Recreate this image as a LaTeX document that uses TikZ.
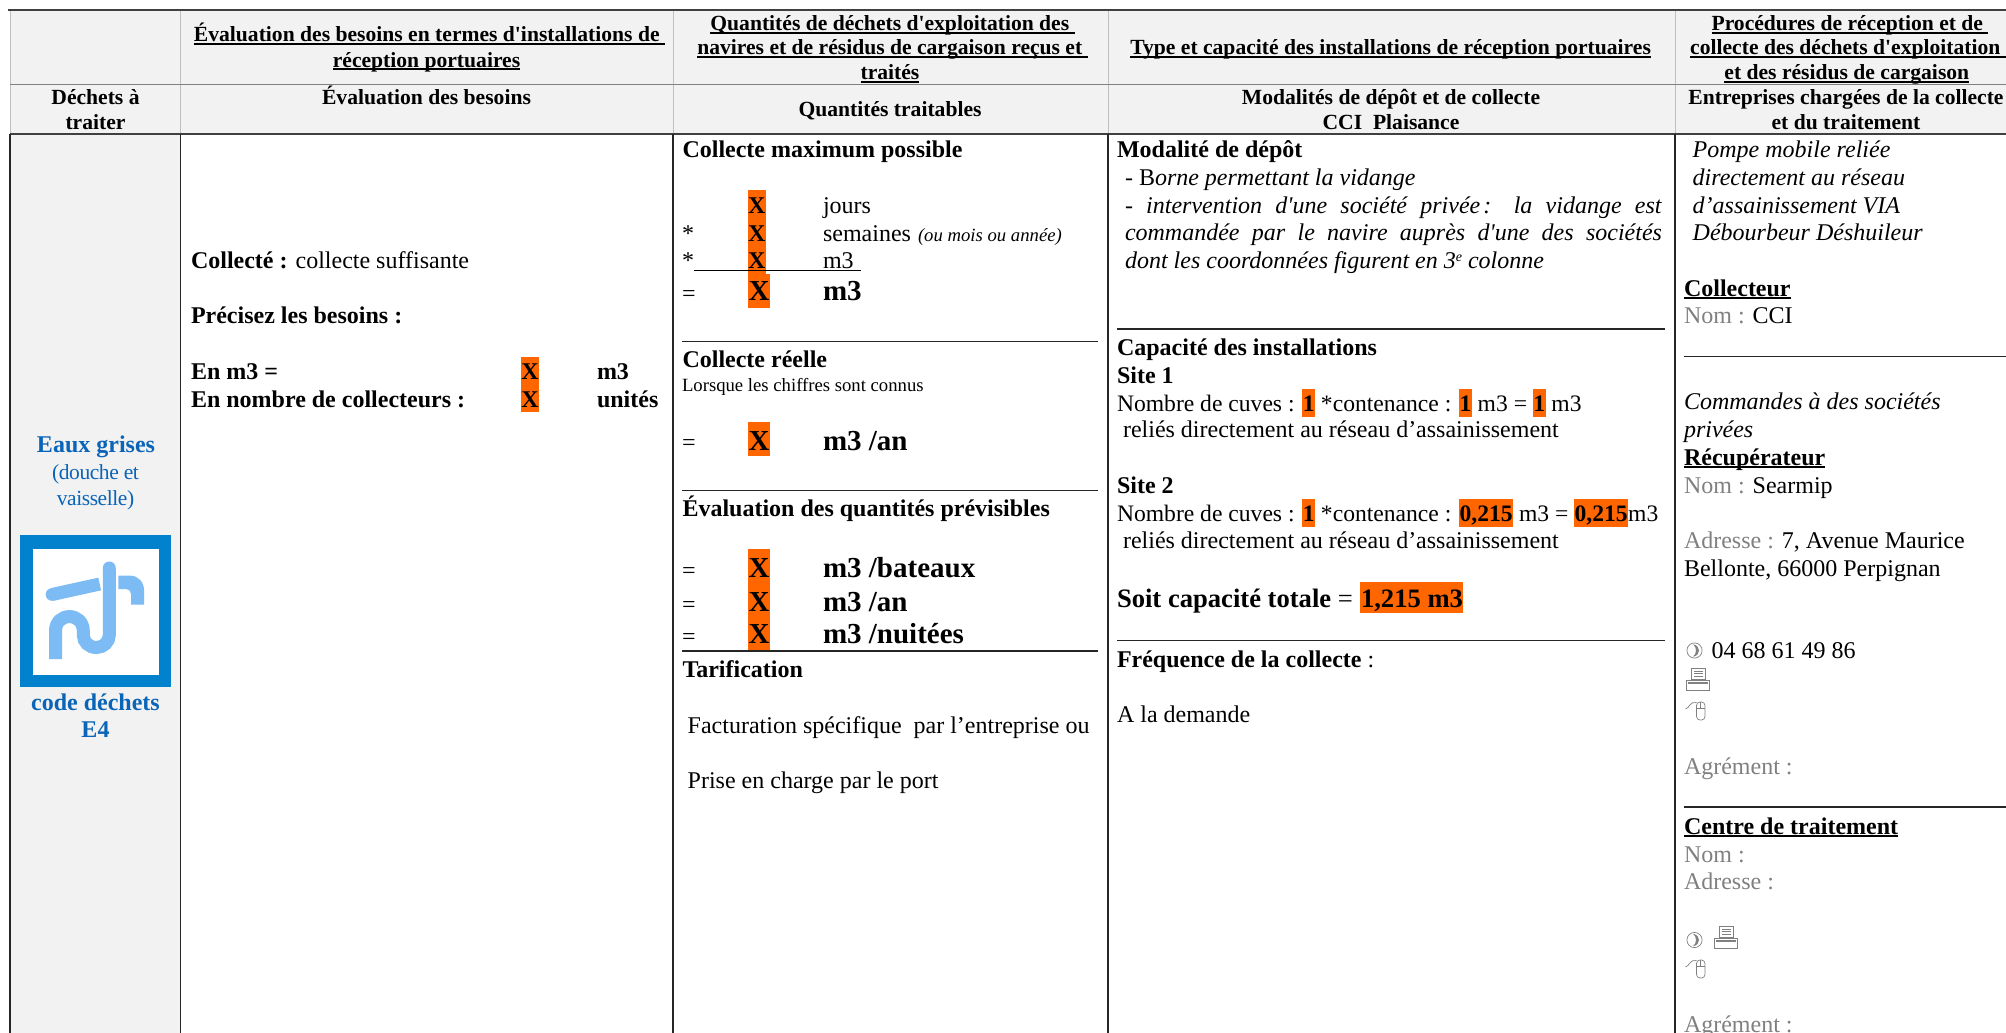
\documentclass[tikz,border=0pt]{standalone}
\usepackage{fontspec}
\setmainfont{Liberation Serif}
\newfontfamily\rawf{Liberation Serif}
\newcommand{\sq}{{\rawf'}}
\definecolor{hlor}{HTML}{FF6600}
\definecolor{hdbg}{HTML}{F2F2F2}
\definecolor{wblue}{HTML}{0A64B8}
\definecolor{logob}{HTML}{0282CC}
\definecolor{logol}{HTML}{7DBBF5}
\definecolor{gtxt}{HTML}{808080}
\setlength{\fboxsep}{0pt}
\newsavebox{\ulbox}
\newcommand{\ul}[1]{\sbox{\ulbox}{#1}\rlap{\rule[-2.7pt]{\wd\ulbox}{1.3pt}}\usebox{\ulbox}}
\newcommand{\hl}[1]{\colorbox{hlor}{\rule[-6pt]{0pt}{27.6pt}\kern0.4pt\textbf{#1}\kern0.4pt}}
\newcommand{\hlbig}[1]{\colorbox{hlor}{\rule[-6pt]{0pt}{31pt}\kern1.5pt\textbf{#1}\kern0.5pt}}
\newcommand{\phoneicon}[2]{\begin{scope}[shift={(#1,#2)}]
\draw[gtxt,line width=0.7pt] (8.5,8) circle (7.6);
\fill[gtxt] (7,1.8) .. controls (15,3) and (15,13) .. (7,14.2) .. controls (11,11) and (11,5) .. (7,1.8);
\end{scope}}
\newcommand{\printericon}[2]{\begin{scope}[shift={(#1,#2)},gtxt,line width=0.7pt]
\draw (5,0.5) rectangle (19,11.5);
\draw (7.5,3.2) -- (16.5,3.2) (7.5,5.8) -- (16.5,5.8) (7.5,8.4) -- (16.5,8.4);
\draw (0.5,12) rectangle (23.5,22);
\draw[line width=1.5pt] (2,15.2) -- (22,15.2);
\end{scope}}
\newcommand{\mouseicon}[2]{\begin{scope}[shift={(#1,#2)},gtxt,line width=0.7pt]
\draw[rounded corners=3.5pt] (11.5,2) rectangle (20,20);
\draw (11.5,8) -- (20,8) (15.7,2) -- (15.7,8);
\draw (0.5,9) .. controls (4,8.5) and (5,1) .. (11.5,2.5);
\end{scope}}
\tikzset{
  x=1pt,y=-1pt,
  lt/.style={inner sep=0pt,outer sep=0pt,anchor=base west},
  ct/.style={inner sep=0pt,outer sep=0pt,anchor=base},
  hdf/.style={font=\fontsize{21.6}{25}\selectfont\bfseries},
  bodyf/.style={font=\fontsize{24}{27}\selectfont},
  linef/.style={font=\fontsize{23.6}{27}\selectfont},
  bigf/.style={font=\fontsize{29}{33}\selectfont\bfseries},
  totf/.style={font=\fontsize{26.6}{31}\selectfont},
  smallf/.style={font=\fontsize{18.7}{22}\selectfont},
  tinyf/.style={font=\fontsize{18.7}{20}\selectfont\itshape},
  greytxt/.style={text=gtxt},
  bluet/.style={text=wblue},
  rulel/.style={draw=black!85,line width=1.2pt},
  hlrect/.style={fill=hlor,draw=none},
  hvline/.style={draw=black!25,line width=0.9pt},
  bvline/.style={draw=black!85,line width=1.2pt},
  hhline/.style={draw=black!75,line width=1.5pt},
  pipe/.style={draw=logol,line width=13pt},
}
\begin{document}
\begin{tikzpicture}
\clip (0,0) rectangle (2006,1033);
\fill[white] (0,0) rectangle (2006,1033);
% grey backgrounds
\fill[hdbg] (10,10) rectangle (2006,134);
\fill[hdbg] (10,134) rectangle (180,1033);
% header lines
\draw[hvline] (10,10) -- (10,134);
\draw[hvline] (180,10) -- (180,134);
\draw[hvline] (673,10) -- (673,134);
\draw[hvline] (1108,10) -- (1108,134);
\draw[hvline] (1675,10) -- (1675,134);
\draw[draw=black!50,line width=0.9pt] (10,84) -- (2006,84);
\draw[hhline] (8,10) -- (2006,10);
\draw[hhline] (10,134) -- (2006,134);
% body vertical lines
\draw[bvline] (10,134) -- (10,1033);
\draw[bvline] (180.5,134) -- (180.5,1033);
\draw[bvline] (673,134) -- (673,1033);
\draw[bvline] (1108,134) -- (1108,1033);
\draw[bvline] (1675,134) -- (1675,1033);
% header row 1
\node[ct,hdf] (h1a) at (429.5,42) {\ul{Évaluation des besoins en termes d\sq installations de\ }};
\node[ct,hdf] (h1b) at (426.5,67) {\ul{réception portuaires}};
\node[ct,hdf] (h2a) at (892.5,31) {\ul{Quantités de déchets d\sq exploitation des\ }};
\node[ct,hdf] (h2b) at (892.5,55) {\ul{navires et de résidus de cargaison reçus et\ }};
\node[ct,hdf] (h2c) at (890,80) {\ul{traités}};
\node[ct,hdf] (h3a) at (1390.6,55) {\ul{Type et capacité des installations de réception portuaires}};
\node[ct,hdf] (h4a) at (1850,31) {\ul{Procédures de réception et de\ }};
\node[ct,hdf] (h4b) at (1848,55) {\ul{collecte des déchets d\sq exploitation\ }};
\node[ct,hdf] (h4c) at (1846.8,80) {\ul{et des résidus de cargaison}};
% header row 2
\node[ct,hdf] (s0a) at (95.5,104) {Déchets à};
\node[ct,hdf] (s0b) at (95.5,129) {traiter};
\node[ct,hdf] (s1a) at (426.5,104) {Évaluation des besoins};
\node[ct,hdf] (s2a) at (890,117) {Quantités traitables};
\node[ct,hdf] (s3a) at (1391,104) {Modalités de dépôt et de collecte};
\node[ct,hdf] (s3b) at (1391,129) {CCI\ \ Plaisance};
\node[ct,hdf] (s4a) at (1846,104) {Entreprises chargées de la collecte};
\node[ct,hdf] (s4b) at (1846,129) {et du traitement};
% column 0
\node[ct,bodyf,bluet] (w0a) at (96,452) {\textbf{Eaux grises}};
\node[ct,bluet,font=\fontsize{21.5}{25}\selectfont\addfontfeature{LetterSpace=-2}] (w0b) at (95.5,479) {(douche et};
\node[ct,bluet,font=\fontsize{21.5}{25}\selectfont\addfontfeature{LetterSpace=-2}] (w0c) at (95.5,505) {vaisselle)};
\fill[logob] (20,535) rectangle (171,687);
\fill[white] (32.5,548.6) rectangle (159,675);
\draw[pipe,line cap=butt] (52,594.5) -- (99.7,584);
\fill[logol] (52,594.5) circle (6.3);
\draw[pipe,line width=13pt] (55.5,659) -- (55.5,631) .. controls (55.5,622) and (62,616.6) .. (69.4,616.6) .. controls (77,616.6) and (83.3,622) .. (83.3,631) -- (83.3,635) .. controls (83.3,642) and (89,647.5) .. (96.3,647.5) .. controls (103.5,647.5) and (109.3,642) .. (109.3,635) -- (109.3,568);
\fill[logol] (109.3,568) circle (6.5);
\fill[logol] (118.4,575.6) -- (130,575.6) .. controls (138,575.6) and (144,582) .. (144,590) -- (144,604.5) -- (131,604.5) -- (131,594) .. controls (131,591) and (129,589) .. (126,589) -- (118.4,589) -- cycle;
\node[ct,bodyf,bluet] (w0d) at (95.5,710) {\textbf{code déchets}};
\node[ct,bodyf,bluet] (w0e) at (95.5,737) {\textbf{E4}};
% column 1
\node[lt,bodyf] (c1a) at (191,268) {\textbf{Collecté :} collecte suffisante};
\node[lt,bodyf] (c1b) at (191,323) {\textbf{Précisez les besoins :}};
\node[lt,bodyf] (c1c) at (191,379) {\textbf{En m3 =}};
\node[lt,bodyf] (c1d) at (191,407) {\textbf{En nombre de collecteurs :}};
\fill[hlrect] (521,357) rectangle (539,412);
\node[ct,bodyf] (c1e) at (530,379) {\textbf{X}};
\node[ct,bodyf] (c1f) at (530,407) {\textbf{X}};
\node[lt,bodyf] (c1g) at (597,379) {\textbf{m3}};
\node[lt,bodyf] (c1h) at (597,407) {\textbf{unités}};
% column 2
\node[lt,bodyf] (c2a) at (682.5,157) {\textbf{Collecte maximum possible}};
\fill[hlrect] (748,190) rectangle (766,274);
\fill[hlrect] (748,274) rectangle (770,308);
\node[lt,bodyf] (c2b) at (748,213) {\textbf{X}};
\node[lt,bodyf] (c2c) at (748,241) {\textbf{X}};
\node[lt,bodyf] (c2d) at (748,268) {\textbf{X}};
\node[lt,bigf] (c2e) at (748.5,300) {X};
\node[lt,bodyf] (c2f) at (682,241) {*};
\node[lt,bodyf] (c2g) at (682,268) {*};
\node[lt,bodyf] (c2h) at (682,301) {=};
\node[lt,bodyf] (c2i) at (823,213) {jours};
\node[lt,bodyf] (c2j) at (823,241) {semaines};
\node[lt,tinyf] (c2k) at (918,241) {(ou mois ou année)};
\node[lt,bodyf] (c2l) at (823,268) {m3};
\node[lt,bigf] (c2m) at (823,300) {m3};
\draw[draw=black,line width=0.9pt] (694,270.7) -- (860.7,270.7);
\draw[rulel] (682,341.7) -- (1097.7,341.7);
\node[lt,bodyf] (c2n) at (682.5,367) {\textbf{Collecte réelle}};
\node[lt,smallf] (c2o) at (682,391) {Lorsque les chiffres sont connus};
\node[lt,bodyf] (c2p) at (682,450) {=};
\fill[hlrect] (748,422) rectangle (770,456);
\node[lt,bigf] (c2q) at (748.5,450) {X};
\node[lt,bigf] (c2r) at (823,450) {m3 /an};
\draw[rulel] (682,490.7) -- (1097.7,490.7);
\node[lt,bodyf] (c2s) at (682.5,516) {\textbf{Évaluation des quantités prévisibles}};
\fill[hlrect] (748,549) rectangle (770,651);
\node[lt,bodyf] (c2t) at (682,578) {=};
\node[lt,bodyf] (c2u) at (682,612) {=};
\node[lt,bodyf] (c2v) at (682,644) {=};
\node[lt,bigf] (c2w) at (748.5,577) {X};
\node[lt,bigf] (c2x) at (748.5,611) {X};
\node[lt,bigf] (c2y) at (748.5,643) {X};
\node[lt,bigf] (c2z) at (823,577) {m3 /bateaux};
\node[lt,bigf] (c2aa) at (823,611) {m3 /an};
\node[lt,bigf] (c2ab) at (823,643) {m3 /nuitées};
\draw[rulel] (682,651) -- (1097.7,651);
\node[lt,bodyf] (c2ac) at (682.5,677) {\textbf{Tarification}};
\node[lt,bodyf] (c2ad) at (687.7,733) {Facturation spécifique\ \ par l'entreprise ou};
\node[lt,bodyf] (c2ae) at (687.7,788) {Prise en charge par le port};
% column 3
\node[lt,bodyf] (c3a) at (1117,157) {\textbf{Modalité de dépôt}};
\node[lt,bodyf] (c3b) at (1125,185) {- B\textit{orne permettant la vidange}};
\node[lt,bodyf] (c3c) at (1125,213) {\makebox[537pt][s]{- \textit{intervention d\sq une société privée\kern3pt: la vidange est}}};
\node[lt,bodyf] (c3d) at (1125,240) {\makebox[537pt][s]{\textit{commandée par le navire auprès d\sq une des sociétés}}};
\node[lt,bodyf] (c3e) at (1125,268) {\textit{dont les coordonnées figurent en 3\raisebox{7pt}{\fontsize{14}{14}\selectfont e} colonne}};
\draw[rulel] (1117,329) -- (1664.6,329);
\node[lt,bodyf] (c3f) at (1117,355) {\textbf{Capacité des installations}};
\node[lt,bodyf] (c3g) at (1117,383) {\textbf{Site 1}};
\node[lt,linef] (c3h) at (1117,411) {Nombre de cuves : \hl{1} *contenance : \hl{1} m3 = \hl{1} m3};
\node[lt,bodyf] (c3i) at (1123,437) {reliés directement au réseau d’assainissement};
\node[lt,bodyf] (c3j) at (1117,493) {\textbf{Site 2}};
\node[lt,linef] (c3k) at (1117,521) {Nombre de cuves : \hl{1} *contenance : \hl{0,215} m3 = \hl{0,215}m3};
\node[lt,bodyf] (c3l) at (1123,548) {reliés directement au réseau d’assainissement};
\node[lt,totf] (c3m) at (1117,607) {\textbf{Soit capacité totale} = \hlbig{1,215 m3}};
\draw[rulel] (1117,640.7) -- (1664.6,640.7);
\node[lt,bodyf] (c3n) at (1117,667) {\textbf{Fréquence de la collecte} :};
\node[lt,bodyf] (c3o) at (1117,722) {A la demande};
% column 4
\node[lt,bodyf] (c4a) at (1692.7,157) {\textit{Pompe mobile reliée}};
\node[lt,bodyf] (c4b) at (1692.7,185) {\textit{directement au réseau}};
\node[lt,bodyf] (c4c) at (1692.7,213) {\textit{d’assainissement VIA}};
\node[lt,bodyf] (c4d) at (1692.7,240) {\textit{Débourbeur Déshuileur}};
\node[lt,bodyf] (c4e) at (1684,296) {\textbf{\ul{Collecteur}}};
\node[lt,bodyf] (c4f) at (1684,323) {\textcolor{gtxt}{Nom :} CCI};
\draw[rulel] (1684,356.7) -- (2006,356.7);
\node[lt,bodyf] (c4g) at (1684,409) {\textit{Commandes à des sociétés}};
\node[lt,bodyf] (c4h) at (1684,437) {\textit{privées}};
\node[lt,bodyf] (c4i) at (1684,465) {\textbf{\ul{Récupérateur}}};
\node[lt,bodyf] (c4j) at (1684,493) {\textcolor{gtxt}{Nom :} Searmip};
\node[lt,bodyf] (c4k) at (1684,548) {\textcolor{gtxt}{Adresse :} 7, Avenue Maurice};
\node[lt,bodyf] (c4l) at (1684,576) {Bellonte, 66000 Perpignan};
\phoneicon{1686}{642.5}
\node[lt,bodyf] (c4m) at (1711.7,658) {04 68 61 49 86};
\printericon{1686}{668}
\mouseicon{1685}{700}
\node[lt,bodyf,greytxt] (c4n) at (1684,774) {Agrément :};
\draw[rulel] (1684,807) -- (2006,807);
\node[lt,bodyf] (c4o) at (1684,834) {\textbf{\ul{Centre de traitement}}};
\node[lt,bodyf,greytxt] (c4p) at (1684,862) {Nom :};
\node[lt,bodyf,greytxt] (c4q) at (1684,889) {Adresse :};
\phoneicon{1686}{932}
\printericon{1714}{926}
\mouseicon{1685}{958}
\node[lt,bodyf,greytxt] (c4r) at (1684,1032) {Agrément :};
\end{tikzpicture}
\end{document}
